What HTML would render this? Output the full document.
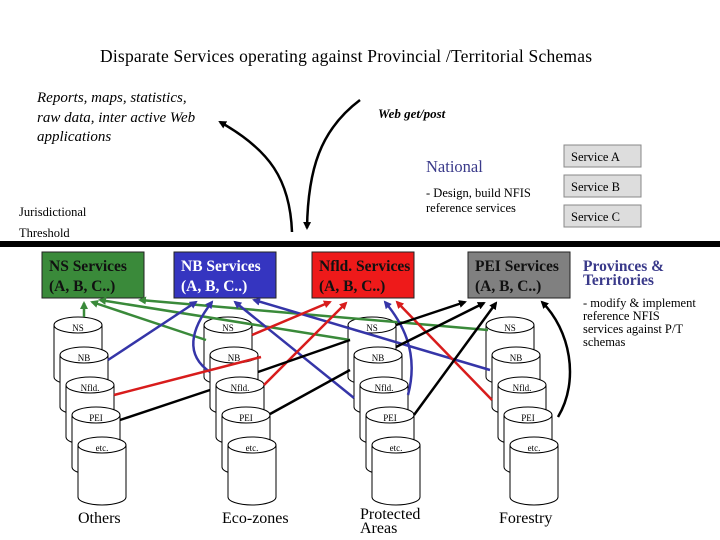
<!DOCTYPE html>
<html><head><meta charset="utf-8"><style>
body{margin:0;background:#fff}
svg{display:block}
text{font-family:"Liberation Serif",serif}
</style></head><body>
<svg width="720" height="540" viewBox="0 0 720 540" xmlns="http://www.w3.org/2000/svg">
<defs>
<marker id="ak" markerWidth="8" markerHeight="8" refX="6" refY="4" orient="auto" markerUnits="userSpaceOnUse"><path d="M0,0 L8,4 L0,8 z" fill="#000"/></marker>
<marker id="ag" markerWidth="8" markerHeight="8" refX="6" refY="4" orient="auto" markerUnits="userSpaceOnUse"><path d="M0,0 L8,4 L0,8 z" fill="#3a8a3a"/></marker>
<marker id="ab" markerWidth="8" markerHeight="8" refX="6" refY="4" orient="auto" markerUnits="userSpaceOnUse"><path d="M0,0 L8,4 L0,8 z" fill="#3535a8"/></marker>
<marker id="ar" markerWidth="8" markerHeight="8" refX="6" refY="4" orient="auto" markerUnits="userSpaceOnUse"><path d="M0,0 L8,4 L0,8 z" fill="#d81c1c"/></marker>
<g id="cyl"><path d="M0,8 L0,60 A24,8 0 0 0 48,60 L48,8" fill="#fff" stroke="#000" stroke-width="1"/><ellipse cx="24" cy="8" rx="24" ry="8" fill="#fff" stroke="#000"/></g>
</defs>

<text x="100" y="62" font-size="17.5" textLength="492">Disparate Services operating against Provincial /Territorial Schemas</text>
<g font-size="15" font-style="italic"><text x="37" y="102">Reports, maps, statistics,</text><text x="37" y="122">raw data, inter active Web</text><text x="37" y="141">applications</text></g>
<text x="378" y="118" font-size="13" font-style="italic" font-weight="bold">Web get/post</text>
<text x="426" y="172" font-size="16.5" fill="#3a3a8a">National</text>
<text x="426" y="197" font-size="12.5">- Design, build NFIS</text>
<text x="426" y="212" font-size="12.5">reference services</text>
<text x="19" y="216" font-size="12.5">Jurisdictional</text>
<text x="19" y="237" font-size="12.5">Threshold</text>
<g font-size="12.5"><rect x="564" y="145" width="77" height="22" fill="#ddd" stroke="#888"/><text x="571" y="161">Service A</text>
<rect x="564" y="175" width="77" height="22" fill="#ddd" stroke="#888"/><text x="571" y="191">Service B</text>
<rect x="564" y="205" width="77" height="22" fill="#ddd" stroke="#888"/><text x="571" y="221">Service C</text></g>

<path d="M292,232 C290,180 270,150 220,122" fill="none" stroke="#000" stroke-width="2.5" marker-end="url(#ak)"/>
<path d="M360,100 C320,130 308,170 307,228" fill="none" stroke="#000" stroke-width="2.5" marker-end="url(#ak)"/>

<rect x="0" y="241" width="720" height="6" fill="#000"/>

<rect x="42" y="252" width="102" height="46" fill="#3a8a3a" stroke="#222"/>
<rect x="174" y="252" width="102" height="46" fill="#3535c0" stroke="#222"/>
<rect x="312" y="252" width="102" height="46" fill="#ee1a1a" stroke="#222"/>
<rect x="468" y="252" width="102" height="46" fill="#808080" stroke="#222"/>
<g font-size="15.5" font-weight="bold">
<text x="49" y="271" fill="#111">NS Services</text><text x="49" y="291" fill="#111">(A, B, C..)</text>
<text x="181" y="271" fill="#fff">NB Services</text><text x="181" y="291" fill="#fff">(A, B, C..)</text>
<text x="319" y="271" fill="#111">Nfld. Services</text><text x="319" y="291" fill="#111">(A, B, C..)</text>
<text x="475" y="271" fill="#111">PEI Services</text><text x="475" y="291" fill="#111">(A, B, C..)</text>
<text x="583" y="271" fill="#3a3a8a">Provinces &amp;</text><text x="583" y="285" fill="#3a3a8a">Territories</text>
</g>
<g font-size="12.5"><text x="583" y="307">- modify &amp; implement</text><text x="583" y="320">reference NFIS</text><text x="583" y="333">services against P/T</text><text x="583" y="346">schemas</text></g>

<g font-size="9">
<use href="#cyl" x="54" y="317"/><text x="78" y="331" text-anchor="middle">NS</text>
<use href="#cyl" x="60" y="347"/><text x="84" y="361" text-anchor="middle">NB</text>
<use href="#cyl" x="66" y="377"/><text x="90" y="391" text-anchor="middle">Nfld.</text>
<use href="#cyl" x="72" y="407"/><text x="96" y="421" text-anchor="middle">PEI</text>
<use href="#cyl" x="78" y="437"/><text x="102" y="451" text-anchor="middle">etc.</text>

<use href="#cyl" x="204" y="317"/><text x="228" y="331" text-anchor="middle">NS</text>
<use href="#cyl" x="210" y="347"/><text x="234" y="361" text-anchor="middle">NB</text>
<use href="#cyl" x="216" y="377"/><text x="240" y="391" text-anchor="middle">Nfld.</text>
<use href="#cyl" x="222" y="407"/><text x="246" y="421" text-anchor="middle">PEI</text>
<use href="#cyl" x="228" y="437"/><text x="252" y="451" text-anchor="middle">etc.</text>

<use href="#cyl" x="348" y="317"/><text x="372" y="331" text-anchor="middle">NS</text>
<use href="#cyl" x="354" y="347"/><text x="378" y="361" text-anchor="middle">NB</text>
<use href="#cyl" x="360" y="377"/><text x="384" y="391" text-anchor="middle">Nfld.</text>
<use href="#cyl" x="366" y="407"/><text x="390" y="421" text-anchor="middle">PEI</text>
<use href="#cyl" x="372" y="437"/><text x="396" y="451" text-anchor="middle">etc.</text>

<use href="#cyl" x="486" y="317"/><text x="510" y="331" text-anchor="middle">NS</text>
<use href="#cyl" x="492" y="347"/><text x="516" y="361" text-anchor="middle">NB</text>
<use href="#cyl" x="498" y="377"/><text x="522" y="391" text-anchor="middle">Nfld.</text>
<use href="#cyl" x="504" y="407"/><text x="528" y="421" text-anchor="middle">PEI</text>
<use href="#cyl" x="510" y="437"/><text x="534" y="451" text-anchor="middle">etc.</text>
</g>
<g font-size="16"><text x="78" y="523">Others</text><text x="222" y="523">Eco-zones</text><text x="360" y="519">Protected</text><text x="360" y="533">Areas</text><text x="499" y="523">Forestry</text></g>

<g stroke="#3a8a3a" stroke-width="2.5" fill="none">
<path d="M84,317 L84,303" marker-end="url(#ag)"/>
<path d="M206,340 L92,302" marker-end="url(#ag)"/>
<path d="M350,340 L100,300" marker-end="url(#ag)"/>
<path d="M488,330 L140,300" marker-end="url(#ag)"/>
</g>
<g stroke="#3535a8" stroke-width="2.5" fill="none">
<path d="M108,360 L196,302" marker-end="url(#ab)"/>
<path d="M210,372 C185,355 190,330 212,302" marker-end="url(#ab)"/>
<path d="M354,398 L235,302" marker-end="url(#ab)"/>
<path d="M490,370 L254,300" marker-end="url(#ab)"/>
<path d="M408,395 C420,350 400,320 385,302" marker-end="url(#ab)"/>
</g>
<g stroke="#d81c1c" stroke-width="2.5" fill="none">
<path d="M114,395 L261,357" />
<path d="M252,335 L330,302" marker-end="url(#ar)"/>
<path d="M264,385 L346,303" marker-end="url(#ar)"/>
<path d="M492,400 L397,302" marker-end="url(#ar)"/>
</g>
<g stroke="#000" stroke-width="2.5" fill="none">
<path d="M120,420 L210,390"/>
<path d="M258,372 L350,340"/>
<path d="M270,414 L350,370"/>
<path d="M396,325 L465,302" marker-end="url(#ak)"/>
<path d="M396,347 L484,303" marker-end="url(#ak)"/>
<path d="M414,415 L496,303" marker-end="url(#ak)"/>
<path d="M558,417 C580,380 570,330 542,302" marker-end="url(#ak)"/>
</g>
</svg>
</body></html>
